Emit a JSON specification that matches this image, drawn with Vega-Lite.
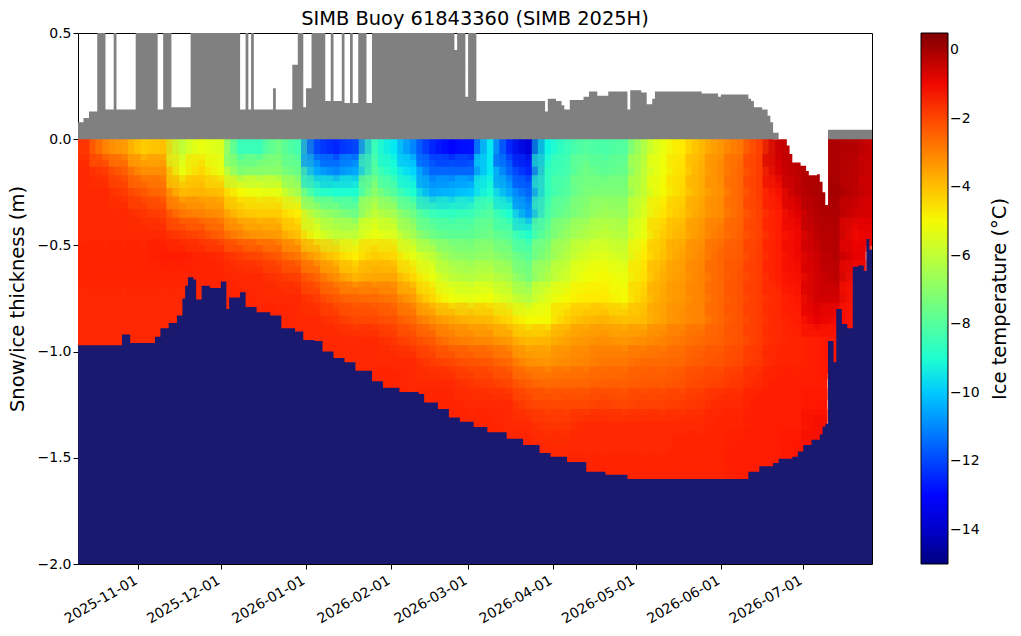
{
"$schema":"https://vega.github.io/schema/vega-lite/v6.json",
"width":794,"height":531,
"autosize":{"type":"none"},
"padding":{"left":78,"top":33,"right":149,"bottom":72},
"background":"white",
"config":{"font":"DejaVu Sans","view":{"stroke":"black","strokeWidth":1}},
"title":{"text":"SIMB Buoy 61843360 (SIMB 2025H)","fontSize":19.4,"fontWeight":"normal","color":"black","offset":-3,"anchor":"middle"},
"datasets":{
"temp":[
{"t":"2025-10-13","d":-0.05,"v":-1.7},{"t":"2025-10-13","d":-0.15,"v":-1.5},{"t":"2025-10-13","d":-0.25,"v":-1.5},{"t":"2025-10-13","d":-0.35,"v":-1.5},{"t":"2025-10-13","d":-0.45,"v":-1.5},{"t":"2025-10-13","d":-0.55,"v":-1.4},{"t":"2025-10-13","d":-0.65,"v":-1.4},{"t":"2025-10-13","d":-0.75,"v":-1.5},{"t":"2025-10-13","d":-0.85,"v":-1.5},{"t":"2025-10-13","d":-0.95,"v":-1.5},
{"t":"2025-10-20","d":-0.05,"v":-3},{"t":"2025-10-20","d":-0.15,"v":-1.8},{"t":"2025-10-20","d":-0.25,"v":-1.5},{"t":"2025-10-20","d":-0.35,"v":-1.5},{"t":"2025-10-20","d":-0.45,"v":-1.5},{"t":"2025-10-20","d":-0.55,"v":-1.4},{"t":"2025-10-20","d":-0.65,"v":-1.4},{"t":"2025-10-20","d":-0.75,"v":-1.5},{"t":"2025-10-20","d":-0.85,"v":-1.5},{"t":"2025-10-20","d":-0.95,"v":-1.5},
{"t":"2025-10-27","d":-0.05,"v":-3.4},{"t":"2025-10-27","d":-0.15,"v":-2.4},{"t":"2025-10-27","d":-0.25,"v":-1.8},{"t":"2025-10-27","d":-0.35,"v":-1.5},{"t":"2025-10-27","d":-0.45,"v":-1.5},{"t":"2025-10-27","d":-0.55,"v":-1.4},{"t":"2025-10-27","d":-0.65,"v":-1.4},{"t":"2025-10-27","d":-0.75,"v":-1.5},{"t":"2025-10-27","d":-0.85,"v":-1.5},{"t":"2025-10-27","d":-0.95,"v":-1.5},
{"t":"2025-11-03","d":-0.05,"v":-4.2},{"t":"2025-11-03","d":-0.15,"v":-3.2},{"t":"2025-11-03","d":-0.25,"v":-2.3},{"t":"2025-11-03","d":-0.35,"v":-1.7},{"t":"2025-11-03","d":-0.45,"v":-1.5},{"t":"2025-11-03","d":-0.55,"v":-1.4},{"t":"2025-11-03","d":-0.65,"v":-1.4},{"t":"2025-11-03","d":-0.75,"v":-1.5},{"t":"2025-11-03","d":-0.85,"v":-1.5},{"t":"2025-11-03","d":-0.95,"v":-1.5},
{"t":"2025-11-10","d":-0.05,"v":-4},{"t":"2025-11-10","d":-0.15,"v":-3.2},{"t":"2025-11-10","d":-0.25,"v":-2.6},{"t":"2025-11-10","d":-0.35,"v":-1.9},{"t":"2025-11-10","d":-0.45,"v":-1.5},{"t":"2025-11-10","d":-0.55,"v":-1.3},{"t":"2025-11-10","d":-0.65,"v":-1.4},{"t":"2025-11-10","d":-0.75,"v":-1.5},{"t":"2025-11-10","d":-0.85,"v":-1.5},{"t":"2025-11-10","d":-0.95,"v":-1.5},
{"t":"2025-11-17","d":-0.05,"v":-6},{"t":"2025-11-17","d":-0.15,"v":-5.2},{"t":"2025-11-17","d":-0.25,"v":-3.9},{"t":"2025-11-17","d":-0.35,"v":-2.8},{"t":"2025-11-17","d":-0.45,"v":-1.8},{"t":"2025-11-17","d":-0.55,"v":-1.3},{"t":"2025-11-17","d":-0.65,"v":-1.4},{"t":"2025-11-17","d":-0.75,"v":-1.5},{"t":"2025-11-17","d":-0.85,"v":-1.5},
{"t":"2025-11-24","d":-0.05,"v":-5.2},{"t":"2025-11-24","d":-0.15,"v":-4.4},{"t":"2025-11-24","d":-0.25,"v":-3.8},{"t":"2025-11-24","d":-0.35,"v":-3},{"t":"2025-11-24","d":-0.45,"v":-2},{"t":"2025-11-24","d":-0.55,"v":-1.4},{"t":"2025-11-24","d":-0.65,"v":-1.4},{"t":"2025-11-24","d":-0.75,"v":-1.5},
{"t":"2025-12-01","d":-0.05,"v":-5.5},{"t":"2025-12-01","d":-0.15,"v":-5.2},{"t":"2025-12-01","d":-0.25,"v":-4},{"t":"2025-12-01","d":-0.35,"v":-3.2},{"t":"2025-12-01","d":-0.45,"v":-2.4},{"t":"2025-12-01","d":-0.55,"v":-1.5},{"t":"2025-12-01","d":-0.65,"v":-1.4},{"t":"2025-12-01","d":-0.75,"v":-1.4},
{"t":"2025-12-08","d":-0.05,"v":-8.5},{"t":"2025-12-08","d":-0.15,"v":-7.2},{"t":"2025-12-08","d":-0.25,"v":-5},{"t":"2025-12-08","d":-0.35,"v":-4},{"t":"2025-12-08","d":-0.45,"v":-3},{"t":"2025-12-08","d":-0.55,"v":-1.8},{"t":"2025-12-08","d":-0.65,"v":-1.5},{"t":"2025-12-08","d":-0.75,"v":-1.4},{"t":"2025-12-08","d":-0.85,"v":-1.4},
{"t":"2025-12-15","d":-0.05,"v":-8.5},{"t":"2025-12-15","d":-0.15,"v":-7},{"t":"2025-12-15","d":-0.25,"v":-5.2},{"t":"2025-12-15","d":-0.35,"v":-4.2},{"t":"2025-12-15","d":-0.45,"v":-3.3},{"t":"2025-12-15","d":-0.55,"v":-2},{"t":"2025-12-15","d":-0.65,"v":-1.5},{"t":"2025-12-15","d":-0.75,"v":-1.5},{"t":"2025-12-15","d":-0.85,"v":-1.4},
{"t":"2025-12-22","d":-0.05,"v":-7.5},{"t":"2025-12-22","d":-0.15,"v":-7},{"t":"2025-12-22","d":-0.25,"v":-5.3},{"t":"2025-12-22","d":-0.35,"v":-4.2},{"t":"2025-12-22","d":-0.45,"v":-3.4},{"t":"2025-12-22","d":-0.55,"v":-2.3},{"t":"2025-12-22","d":-0.65,"v":-1.7},{"t":"2025-12-22","d":-0.75,"v":-1.5},{"t":"2025-12-22","d":-0.85,"v":-1.4},{"t":"2025-12-22","d":-0.95,"v":-1.5},
{"t":"2025-12-29","d":-0.05,"v":-8.3},{"t":"2025-12-29","d":-0.15,"v":-7.6},{"t":"2025-12-29","d":-0.25,"v":-6.5},{"t":"2025-12-29","d":-0.35,"v":-4.8},{"t":"2025-12-29","d":-0.45,"v":-4},{"t":"2025-12-29","d":-0.55,"v":-2.8},{"t":"2025-12-29","d":-0.65,"v":-1.9},{"t":"2025-12-29","d":-0.75,"v":-1.5},{"t":"2025-12-29","d":-0.85,"v":-1.5},{"t":"2025-12-29","d":-0.95,"v":-1.5},
{"t":"2026-01-05","d":-0.05,"v":-12},{"t":"2026-01-05","d":-0.15,"v":-10.5},{"t":"2026-01-05","d":-0.25,"v":-8.7},{"t":"2026-01-05","d":-0.35,"v":-6.5},{"t":"2026-01-05","d":-0.45,"v":-5.3},{"t":"2026-01-05","d":-0.55,"v":-3.6},{"t":"2026-01-05","d":-0.65,"v":-2.5},{"t":"2026-01-05","d":-0.75,"v":-1.8},{"t":"2026-01-05","d":-0.85,"v":-1.5},{"t":"2026-01-05","d":-0.95,"v":-1.5},
{"t":"2026-01-12","d":-0.05,"v":-12.5},{"t":"2026-01-12","d":-0.15,"v":-11},{"t":"2026-01-12","d":-0.25,"v":-9},{"t":"2026-01-12","d":-0.35,"v":-7},{"t":"2026-01-12","d":-0.45,"v":-6},{"t":"2026-01-12","d":-0.55,"v":-4.2},{"t":"2026-01-12","d":-0.65,"v":-3.2},{"t":"2026-01-12","d":-0.75,"v":-2.3},{"t":"2026-01-12","d":-0.85,"v":-1.7},{"t":"2026-01-12","d":-0.95,"v":-1.5},{"t":"2026-01-12","d":-1.05,"v":-1.5},
{"t":"2026-01-19","d":-0.05,"v":-12},{"t":"2026-01-19","d":-0.15,"v":-10.5},{"t":"2026-01-19","d":-0.25,"v":-9},{"t":"2026-01-19","d":-0.35,"v":-7.5},{"t":"2026-01-19","d":-0.45,"v":-6},{"t":"2026-01-19","d":-0.55,"v":-4.8},{"t":"2026-01-19","d":-0.65,"v":-3.8},{"t":"2026-01-19","d":-0.75,"v":-2.5},{"t":"2026-01-19","d":-0.85,"v":-2},{"t":"2026-01-19","d":-0.95,"v":-1.5},{"t":"2026-01-19","d":-1.05,"v":-1.5},
{"t":"2026-01-26","d":-0.05,"v":-8.5},{"t":"2026-01-26","d":-0.15,"v":-8},{"t":"2026-01-26","d":-0.25,"v":-7},{"t":"2026-01-26","d":-0.35,"v":-6},{"t":"2026-01-26","d":-0.45,"v":-5.2},{"t":"2026-01-26","d":-0.55,"v":-4.2},{"t":"2026-01-26","d":-0.65,"v":-3.6},{"t":"2026-01-26","d":-0.75,"v":-2.6},{"t":"2026-01-26","d":-0.85,"v":-2},{"t":"2026-01-26","d":-0.95,"v":-1.5},{"t":"2026-01-26","d":-1.05,"v":-1.5},{"t":"2026-01-26","d":-1.15,"v":-1.4},
{"t":"2026-02-02","d":-0.05,"v":-9.5},{"t":"2026-02-02","d":-0.15,"v":-9},{"t":"2026-02-02","d":-0.25,"v":-8},{"t":"2026-02-02","d":-0.35,"v":-6.5},{"t":"2026-02-02","d":-0.45,"v":-5.5},{"t":"2026-02-02","d":-0.55,"v":-4.4},{"t":"2026-02-02","d":-0.65,"v":-3.6},{"t":"2026-02-02","d":-0.75,"v":-2.8},{"t":"2026-02-02","d":-0.85,"v":-2.2},{"t":"2026-02-02","d":-0.95,"v":-1.7},{"t":"2026-02-02","d":-1.05,"v":-1.5},{"t":"2026-02-02","d":-1.15,"v":-1.4},
{"t":"2026-02-09","d":-0.05,"v":-11},{"t":"2026-02-09","d":-0.15,"v":-9.8},{"t":"2026-02-09","d":-0.25,"v":-9},{"t":"2026-02-09","d":-0.35,"v":-7.5},{"t":"2026-02-09","d":-0.45,"v":-6.5},{"t":"2026-02-09","d":-0.55,"v":-5.3},{"t":"2026-02-09","d":-0.65,"v":-4.4},{"t":"2026-02-09","d":-0.75,"v":-3.4},{"t":"2026-02-09","d":-0.85,"v":-2.6},{"t":"2026-02-09","d":-0.95,"v":-2},{"t":"2026-02-09","d":-1.05,"v":-1.5},{"t":"2026-02-09","d":-1.15,"v":-1.5},{"t":"2026-02-09","d":-1.25,"v":-1.4},
{"t":"2026-02-16","d":-0.05,"v":-12.5},{"t":"2026-02-16","d":-0.15,"v":-11.5},{"t":"2026-02-16","d":-0.25,"v":-10.5},{"t":"2026-02-16","d":-0.35,"v":-8.5},{"t":"2026-02-16","d":-0.45,"v":-7.5},{"t":"2026-02-16","d":-0.55,"v":-6},{"t":"2026-02-16","d":-0.65,"v":-5.2},{"t":"2026-02-16","d":-0.75,"v":-4.4},{"t":"2026-02-16","d":-0.85,"v":-3.2},{"t":"2026-02-16","d":-0.95,"v":-2.3},{"t":"2026-02-16","d":-1.05,"v":-1.8},{"t":"2026-02-16","d":-1.15,"v":-1.5},{"t":"2026-02-16","d":-1.25,"v":-1.4},
{"t":"2026-02-23","d":-0.05,"v":-13},{"t":"2026-02-23","d":-0.15,"v":-11.5},{"t":"2026-02-23","d":-0.25,"v":-10.3},{"t":"2026-02-23","d":-0.35,"v":-8.7},{"t":"2026-02-23","d":-0.45,"v":-7.8},{"t":"2026-02-23","d":-0.55,"v":-6.8},{"t":"2026-02-23","d":-0.65,"v":-6},{"t":"2026-02-23","d":-0.75,"v":-5.1},{"t":"2026-02-23","d":-0.85,"v":-3.6},{"t":"2026-02-23","d":-0.95,"v":-2.8},{"t":"2026-02-23","d":-1.05,"v":-2},{"t":"2026-02-23","d":-1.15,"v":-1.5},{"t":"2026-02-23","d":-1.25,"v":-1.4},{"t":"2026-02-23","d":-1.35,"v":-1.4},
{"t":"2026-03-02","d":-0.05,"v":-12.8},{"t":"2026-03-02","d":-0.15,"v":-11.5},{"t":"2026-03-02","d":-0.25,"v":-10},{"t":"2026-03-02","d":-0.35,"v":-8.5},{"t":"2026-03-02","d":-0.45,"v":-7.8},{"t":"2026-03-02","d":-0.55,"v":-7},{"t":"2026-03-02","d":-0.65,"v":-6.2},{"t":"2026-03-02","d":-0.75,"v":-5.3},{"t":"2026-03-02","d":-0.85,"v":-3.8},{"t":"2026-03-02","d":-0.95,"v":-3},{"t":"2026-03-02","d":-1.05,"v":-2.2},{"t":"2026-03-02","d":-1.15,"v":-1.7},{"t":"2026-03-02","d":-1.25,"v":-1.5},{"t":"2026-03-02","d":-1.35,"v":-1.4},
{"t":"2026-03-09","d":-0.05,"v":-9.5},{"t":"2026-03-09","d":-0.15,"v":-9.5},{"t":"2026-03-09","d":-0.25,"v":-9},{"t":"2026-03-09","d":-0.35,"v":-8},{"t":"2026-03-09","d":-0.45,"v":-7.5},{"t":"2026-03-09","d":-0.55,"v":-6.8},{"t":"2026-03-09","d":-0.65,"v":-6},{"t":"2026-03-09","d":-0.75,"v":-5.1},{"t":"2026-03-09","d":-0.85,"v":-3.9},{"t":"2026-03-09","d":-0.95,"v":-3.1},{"t":"2026-03-09","d":-1.05,"v":-2.3},{"t":"2026-03-09","d":-1.15,"v":-1.8},{"t":"2026-03-09","d":-1.25,"v":-1.5},{"t":"2026-03-09","d":-1.35,"v":-1.4},{"t":"2026-03-09","d":-1.45,"v":-1.4},
{"t":"2026-03-16","d":-0.05,"v":-12.5},{"t":"2026-03-16","d":-0.15,"v":-11.5},{"t":"2026-03-16","d":-0.25,"v":-10.5},{"t":"2026-03-16","d":-0.35,"v":-9},{"t":"2026-03-16","d":-0.45,"v":-8},{"t":"2026-03-16","d":-0.55,"v":-7.2},{"t":"2026-03-16","d":-0.65,"v":-6.4},{"t":"2026-03-16","d":-0.75,"v":-5.6},{"t":"2026-03-16","d":-0.85,"v":-4.4},{"t":"2026-03-16","d":-0.95,"v":-3.4},{"t":"2026-03-16","d":-1.05,"v":-2.6},{"t":"2026-03-16","d":-1.15,"v":-2},{"t":"2026-03-16","d":-1.25,"v":-1.5},{"t":"2026-03-16","d":-1.35,"v":-1.5},{"t":"2026-03-16","d":-1.45,"v":-1.4},
{"t":"2026-03-23","d":-0.05,"v":-13.8},{"t":"2026-03-23","d":-0.15,"v":-12.5},{"t":"2026-03-23","d":-0.25,"v":-11.5},{"t":"2026-03-23","d":-0.35,"v":-10.8},{"t":"2026-03-23","d":-0.45,"v":-8.9},{"t":"2026-03-23","d":-0.55,"v":-7.9},{"t":"2026-03-23","d":-0.65,"v":-7.3},{"t":"2026-03-23","d":-0.75,"v":-6.2},{"t":"2026-03-23","d":-0.85,"v":-5},{"t":"2026-03-23","d":-0.95,"v":-3.9},{"t":"2026-03-23","d":-1.05,"v":-3.2},{"t":"2026-03-23","d":-1.15,"v":-2.4},{"t":"2026-03-23","d":-1.25,"v":-1.9},{"t":"2026-03-23","d":-1.35,"v":-1.5},{"t":"2026-03-23","d":-1.45,"v":-1.4},
{"t":"2026-03-30","d":-0.05,"v":-9.3},{"t":"2026-03-30","d":-0.15,"v":-8.7},{"t":"2026-03-30","d":-0.25,"v":-8.6},{"t":"2026-03-30","d":-0.35,"v":-8.2},{"t":"2026-03-30","d":-0.45,"v":-7.6},{"t":"2026-03-30","d":-0.55,"v":-7},{"t":"2026-03-30","d":-0.65,"v":-6.3},{"t":"2026-03-30","d":-0.75,"v":-5.4},{"t":"2026-03-30","d":-0.85,"v":-5},{"t":"2026-03-30","d":-0.95,"v":-3.8},{"t":"2026-03-30","d":-1.05,"v":-3.3},{"t":"2026-03-30","d":-1.15,"v":-2.6},{"t":"2026-03-30","d":-1.25,"v":-2},{"t":"2026-03-30","d":-1.35,"v":-1.7},{"t":"2026-03-30","d":-1.45,"v":-1.5},
{"t":"2026-04-06","d":-0.05,"v":-8.5},{"t":"2026-04-06","d":-0.15,"v":-8.3},{"t":"2026-04-06","d":-0.25,"v":-8},{"t":"2026-04-06","d":-0.35,"v":-7.5},{"t":"2026-04-06","d":-0.45,"v":-6.8},{"t":"2026-04-06","d":-0.55,"v":-6.2},{"t":"2026-04-06","d":-0.65,"v":-5.7},{"t":"2026-04-06","d":-0.75,"v":-5},{"t":"2026-04-06","d":-0.85,"v":-4.2},{"t":"2026-04-06","d":-0.95,"v":-3.5},{"t":"2026-04-06","d":-1.05,"v":-3.1},{"t":"2026-04-06","d":-1.15,"v":-2.5},{"t":"2026-04-06","d":-1.25,"v":-2},{"t":"2026-04-06","d":-1.35,"v":-1.7},{"t":"2026-04-06","d":-1.45,"v":-1.5},{"t":"2026-04-06","d":-1.55,"v":-1.4},
{"t":"2026-04-13","d":-0.05,"v":-8},{"t":"2026-04-13","d":-0.15,"v":-7.5},{"t":"2026-04-13","d":-0.25,"v":-7.3},{"t":"2026-04-13","d":-0.35,"v":-7},{"t":"2026-04-13","d":-0.45,"v":-6.3},{"t":"2026-04-13","d":-0.55,"v":-5.6},{"t":"2026-04-13","d":-0.65,"v":-5.1},{"t":"2026-04-13","d":-0.75,"v":-4.7},{"t":"2026-04-13","d":-0.85,"v":-3.9},{"t":"2026-04-13","d":-0.95,"v":-3.3},{"t":"2026-04-13","d":-1.05,"v":-3},{"t":"2026-04-13","d":-1.15,"v":-2.5},{"t":"2026-04-13","d":-1.25,"v":-2},{"t":"2026-04-13","d":-1.35,"v":-1.5},{"t":"2026-04-13","d":-1.45,"v":-1.5},{"t":"2026-04-13","d":-1.55,"v":-1.4},
{"t":"2026-04-20","d":-0.05,"v":-8.2},{"t":"2026-04-20","d":-0.15,"v":-7.8},{"t":"2026-04-20","d":-0.25,"v":-7.2},{"t":"2026-04-20","d":-0.35,"v":-6.6},{"t":"2026-04-20","d":-0.45,"v":-6},{"t":"2026-04-20","d":-0.55,"v":-5.4},{"t":"2026-04-20","d":-0.65,"v":-5},{"t":"2026-04-20","d":-0.75,"v":-4.7},{"t":"2026-04-20","d":-0.85,"v":-3.8},{"t":"2026-04-20","d":-0.95,"v":-3.2},{"t":"2026-04-20","d":-1.05,"v":-2.8},{"t":"2026-04-20","d":-1.15,"v":-2.4},{"t":"2026-04-20","d":-1.25,"v":-1.9},{"t":"2026-04-20","d":-1.35,"v":-1.5},{"t":"2026-04-20","d":-1.45,"v":-1.5},{"t":"2026-04-20","d":-1.55,"v":-1.4},
{"t":"2026-04-27","d":-0.05,"v":-8},{"t":"2026-04-27","d":-0.15,"v":-7.6},{"t":"2026-04-27","d":-0.25,"v":-7.2},{"t":"2026-04-27","d":-0.35,"v":-6.7},{"t":"2026-04-27","d":-0.45,"v":-6.2},{"t":"2026-04-27","d":-0.55,"v":-5.7},{"t":"2026-04-27","d":-0.65,"v":-5.2},{"t":"2026-04-27","d":-0.75,"v":-5},{"t":"2026-04-27","d":-0.85,"v":-4},{"t":"2026-04-27","d":-0.95,"v":-3.3},{"t":"2026-04-27","d":-1.05,"v":-2.8},{"t":"2026-04-27","d":-1.15,"v":-2.4},{"t":"2026-04-27","d":-1.25,"v":-2},{"t":"2026-04-27","d":-1.35,"v":-1.5},{"t":"2026-04-27","d":-1.45,"v":-1.5},{"t":"2026-04-27","d":-1.55,"v":-1.4},
{"t":"2026-05-04","d":-0.05,"v":-6.3},{"t":"2026-05-04","d":-0.15,"v":-6},{"t":"2026-05-04","d":-0.25,"v":-5.9},{"t":"2026-05-04","d":-0.35,"v":-5.5},{"t":"2026-05-04","d":-0.45,"v":-5.2},{"t":"2026-05-04","d":-0.55,"v":-4.7},{"t":"2026-05-04","d":-0.65,"v":-4.5},{"t":"2026-05-04","d":-0.75,"v":-4.2},{"t":"2026-05-04","d":-0.85,"v":-3.9},{"t":"2026-05-04","d":-0.95,"v":-3.2},{"t":"2026-05-04","d":-1.05,"v":-2.6},{"t":"2026-05-04","d":-1.15,"v":-2.3},{"t":"2026-05-04","d":-1.25,"v":-1.9},{"t":"2026-05-04","d":-1.35,"v":-1.5},{"t":"2026-05-04","d":-1.45,"v":-1.5},{"t":"2026-05-04","d":-1.55,"v":-1.4},
{"t":"2026-05-11","d":-0.05,"v":-5.2},{"t":"2026-05-11","d":-0.15,"v":-5.1},{"t":"2026-05-11","d":-0.25,"v":-5},{"t":"2026-05-11","d":-0.35,"v":-4.6},{"t":"2026-05-11","d":-0.45,"v":-4.2},{"t":"2026-05-11","d":-0.55,"v":-4},{"t":"2026-05-11","d":-0.65,"v":-3.7},{"t":"2026-05-11","d":-0.75,"v":-3.6},{"t":"2026-05-11","d":-0.85,"v":-3.5},{"t":"2026-05-11","d":-0.95,"v":-3},{"t":"2026-05-11","d":-1.05,"v":-2.6},{"t":"2026-05-11","d":-1.15,"v":-2.3},{"t":"2026-05-11","d":-1.25,"v":-1.9},{"t":"2026-05-11","d":-1.35,"v":-1.5},{"t":"2026-05-11","d":-1.45,"v":-1.5},{"t":"2026-05-11","d":-1.55,"v":-1.4},
{"t":"2026-05-18","d":-0.05,"v":-4.7},{"t":"2026-05-18","d":-0.15,"v":-4.5},{"t":"2026-05-18","d":-0.25,"v":-4.4},{"t":"2026-05-18","d":-0.35,"v":-4.1},{"t":"2026-05-18","d":-0.45,"v":-3.8},{"t":"2026-05-18","d":-0.55,"v":-3.5},{"t":"2026-05-18","d":-0.65,"v":-3.4},{"t":"2026-05-18","d":-0.75,"v":-3.3},{"t":"2026-05-18","d":-0.85,"v":-3.2},{"t":"2026-05-18","d":-0.95,"v":-2.8},{"t":"2026-05-18","d":-1.05,"v":-2.5},{"t":"2026-05-18","d":-1.15,"v":-2.2},{"t":"2026-05-18","d":-1.25,"v":-1.8},{"t":"2026-05-18","d":-1.35,"v":-1.5},{"t":"2026-05-18","d":-1.45,"v":-1.4},{"t":"2026-05-18","d":-1.55,"v":-1.4},
{"t":"2026-05-25","d":-0.05,"v":-3.9},{"t":"2026-05-25","d":-0.15,"v":-3.7},{"t":"2026-05-25","d":-0.25,"v":-3.7},{"t":"2026-05-25","d":-0.35,"v":-3.5},{"t":"2026-05-25","d":-0.45,"v":-3.3},{"t":"2026-05-25","d":-0.55,"v":-3.1},{"t":"2026-05-25","d":-0.65,"v":-3},{"t":"2026-05-25","d":-0.75,"v":-3},{"t":"2026-05-25","d":-0.85,"v":-3},{"t":"2026-05-25","d":-0.95,"v":-2.6},{"t":"2026-05-25","d":-1.05,"v":-2.3},{"t":"2026-05-25","d":-1.15,"v":-2},{"t":"2026-05-25","d":-1.25,"v":-1.7},{"t":"2026-05-25","d":-1.35,"v":-1.5},{"t":"2026-05-25","d":-1.45,"v":-1.4},{"t":"2026-05-25","d":-1.55,"v":-1.4},
{"t":"2026-06-01","d":-0.05,"v":-3.3},{"t":"2026-06-01","d":-0.15,"v":-3.1},{"t":"2026-06-01","d":-0.25,"v":-3.2},{"t":"2026-06-01","d":-0.35,"v":-3.1},{"t":"2026-06-01","d":-0.45,"v":-2.8},{"t":"2026-06-01","d":-0.55,"v":-2.5},{"t":"2026-06-01","d":-0.65,"v":-2.5},{"t":"2026-06-01","d":-0.75,"v":-2.5},{"t":"2026-06-01","d":-0.85,"v":-2.5},{"t":"2026-06-01","d":-0.95,"v":-2.4},{"t":"2026-06-01","d":-1.05,"v":-2.2},{"t":"2026-06-01","d":-1.15,"v":-1.9},{"t":"2026-06-01","d":-1.25,"v":-1.5},{"t":"2026-06-01","d":-1.35,"v":-1.4},{"t":"2026-06-01","d":-1.45,"v":-1.4},{"t":"2026-06-01","d":-1.55,"v":-1.4},
{"t":"2026-06-08","d":-0.05,"v":-2.8},{"t":"2026-06-08","d":-0.15,"v":-2.5},{"t":"2026-06-08","d":-0.25,"v":-2.5},{"t":"2026-06-08","d":-0.35,"v":-2.5},{"t":"2026-06-08","d":-0.45,"v":-2.4},{"t":"2026-06-08","d":-0.55,"v":-2.3},{"t":"2026-06-08","d":-0.65,"v":-2.2},{"t":"2026-06-08","d":-0.75,"v":-2.2},{"t":"2026-06-08","d":-0.85,"v":-2.2},{"t":"2026-06-08","d":-0.95,"v":-2.2},{"t":"2026-06-08","d":-1.05,"v":-2},{"t":"2026-06-08","d":-1.15,"v":-1.7},{"t":"2026-06-08","d":-1.25,"v":-1.5},{"t":"2026-06-08","d":-1.35,"v":-1.4},{"t":"2026-06-08","d":-1.45,"v":-1.3},{"t":"2026-06-08","d":-1.55,"v":-1.3},
{"t":"2026-06-15","d":-0.05,"v":-1.9},{"t":"2026-06-15","d":-0.15,"v":-1.8},{"t":"2026-06-15","d":-0.25,"v":-1.8},{"t":"2026-06-15","d":-0.35,"v":-1.9},{"t":"2026-06-15","d":-0.45,"v":-1.9},{"t":"2026-06-15","d":-0.55,"v":-1.8},{"t":"2026-06-15","d":-0.65,"v":-1.8},{"t":"2026-06-15","d":-0.75,"v":-1.8},{"t":"2026-06-15","d":-0.85,"v":-1.8},{"t":"2026-06-15","d":-0.95,"v":-1.8},{"t":"2026-06-15","d":-1.05,"v":-1.7},{"t":"2026-06-15","d":-1.15,"v":-1.5},{"t":"2026-06-15","d":-1.25,"v":-1.3},{"t":"2026-06-15","d":-1.35,"v":-1.3},{"t":"2026-06-15","d":-1.45,"v":-1.3},{"t":"2026-06-15","d":-1.55,"v":-1.3},
{"t":"2026-06-22","d":-0.05,"v":-0.5},{"t":"2026-06-22","d":-0.15,"v":-0.7},{"t":"2026-06-22","d":-0.25,"v":-1.1},{"t":"2026-06-22","d":-0.35,"v":-1.3},{"t":"2026-06-22","d":-0.45,"v":-1.3},{"t":"2026-06-22","d":-0.55,"v":-1.3},{"t":"2026-06-22","d":-0.65,"v":-1.3},{"t":"2026-06-22","d":-0.75,"v":-1.5},{"t":"2026-06-22","d":-0.85,"v":-1.5},{"t":"2026-06-22","d":-0.95,"v":-1.5},{"t":"2026-06-22","d":-1.05,"v":-1.4},{"t":"2026-06-22","d":-1.15,"v":-1.3},{"t":"2026-06-22","d":-1.25,"v":-1.3},{"t":"2026-06-22","d":-1.35,"v":-1.3},{"t":"2026-06-22","d":-1.45,"v":-1.3},{"t":"2026-06-22","d":-1.55,"v":-1.3},
{"t":"2026-06-29","d":-0.05,"v":-0.3},{"t":"2026-06-29","d":-0.15,"v":-0.3},{"t":"2026-06-29","d":-0.25,"v":-0.4},{"t":"2026-06-29","d":-0.35,"v":-0.8},{"t":"2026-06-29","d":-0.45,"v":-1},{"t":"2026-06-29","d":-0.55,"v":-1},{"t":"2026-06-29","d":-0.65,"v":-1.1},{"t":"2026-06-29","d":-0.75,"v":-1.2},{"t":"2026-06-29","d":-0.85,"v":-1.3},{"t":"2026-06-29","d":-0.95,"v":-1.4},{"t":"2026-06-29","d":-1.05,"v":-1.4},{"t":"2026-06-29","d":-1.15,"v":-1.3},{"t":"2026-06-29","d":-1.25,"v":-1.3},{"t":"2026-06-29","d":-1.35,"v":-1.3},{"t":"2026-06-29","d":-1.45,"v":-1.2},{"t":"2026-06-29","d":-1.55,"v":-1.2},
{"t":"2026-07-06","d":-0.05,"v":-0.1},{"t":"2026-07-06","d":-0.15,"v":-0.1},{"t":"2026-07-06","d":-0.25,"v":-0.1},{"t":"2026-07-06","d":-0.35,"v":-0.2},{"t":"2026-07-06","d":-0.45,"v":-0.3},{"t":"2026-07-06","d":-0.55,"v":-0.5},{"t":"2026-07-06","d":-0.65,"v":-0.6},{"t":"2026-07-06","d":-0.75,"v":-0.6},{"t":"2026-07-06","d":-0.85,"v":-0.9},{"t":"2026-07-06","d":-0.95,"v":-1.3},{"t":"2026-07-06","d":-1.05,"v":-1.3},{"t":"2026-07-06","d":-1.15,"v":-1.3},{"t":"2026-07-06","d":-1.25,"v":-1.2},{"t":"2026-07-06","d":-1.35,"v":-1.1},{"t":"2026-07-06","d":-1.45,"v":-1.1},
{"t":"2026-07-13","d":-0.05,"v":-0.1},{"t":"2026-07-13","d":-0.15,"v":-0.1},{"t":"2026-07-13","d":-0.25,"v":0},{"t":"2026-07-13","d":-0.35,"v":-0.1},{"t":"2026-07-13","d":-0.45,"v":-0.2},{"t":"2026-07-13","d":-0.55,"v":-0.2},{"t":"2026-07-13","d":-0.65,"v":-0.3},{"t":"2026-07-13","d":-0.75,"v":-0.6},{"t":"2026-07-13","d":-0.85,"v":-1},{"t":"2026-07-13","d":-0.95,"v":-1.2},{"t":"2026-07-13","d":-1.05,"v":-1.2},
{"t":"2026-07-20","d":-0.05,"v":-0.2},{"t":"2026-07-20","d":-0.15,"v":-0.3},{"t":"2026-07-20","d":-0.25,"v":-0.3},{"t":"2026-07-20","d":-0.35,"v":-0.6},{"t":"2026-07-20","d":-0.45,"v":-1},{"t":"2026-07-20","d":-0.55,"v":-0.9},{"t":"2026-07-20","d":-0.65,"v":-1.1},{"t":"2026-07-20","d":-0.75,"v":-1.2},{"t":"2026-07-20","d":-0.85,"v":-1.2},
{"t":"2026-07-27","d":-0.05,"v":-0.5},{"t":"2026-07-27","d":-0.15,"v":-0.5},{"t":"2026-07-27","d":-0.25,"v":-0.6},{"t":"2026-07-27","d":-0.35,"v":-0.7},{"t":"2026-07-27","d":-0.45,"v":-0.9}
],
"ice":[
{"t":"2025-10-10","b":-0.97},{"t":"2025-10-26","b":-0.92},{"t":"2025-10-29","b":-0.96},{"t":"2025-11-07","b":-0.93},{"t":"2025-11-09","b":-0.89},{"t":"2025-11-12","b":-0.865},{"t":"2025-11-15","b":-0.83},{"t":"2025-11-17","b":-0.75},{"t":"2025-11-18","b":-0.69},{"t":"2025-11-19","b":-0.65},{"t":"2025-11-21","b":-0.66},{"t":"2025-11-22","b":-0.755},{"t":"2025-11-24","b":-0.69},{"t":"2025-11-27","b":-0.7},{"t":"2025-11-30","b":-0.7},{"t":"2025-12-01","b":-0.67},{"t":"2025-12-03","b":-0.8},{"t":"2025-12-04","b":-0.745},{"t":"2025-12-08","b":-0.72},{"t":"2025-12-10","b":-0.79},{"t":"2025-12-14","b":-0.815},{"t":"2025-12-19","b":-0.83},{"t":"2025-12-23","b":-0.89},{"t":"2025-12-28","b":-0.905},{"t":"2025-12-31","b":-0.945},{"t":"2026-01-04","b":-0.95},{"t":"2026-01-07","b":-1},{"t":"2026-01-11","b":-1.03},{"t":"2026-01-15","b":-1.05},{"t":"2026-01-19","b":-1.09},{"t":"2026-01-25","b":-1.14},{"t":"2026-01-29","b":-1.17},{"t":"2026-02-04","b":-1.19},{"t":"2026-02-11","b":-1.2},{"t":"2026-02-13","b":-1.24},{"t":"2026-02-18","b":-1.27},{"t":"2026-02-22","b":-1.31},{"t":"2026-02-26","b":-1.33},{"t":"2026-03-03","b":-1.355},{"t":"2026-03-08","b":-1.38},{"t":"2026-03-15","b":-1.41},{"t":"2026-03-21","b":-1.44},{"t":"2026-03-27","b":-1.477},{"t":"2026-03-31","b":-1.495},{"t":"2026-04-06","b":-1.52},{"t":"2026-04-13","b":-1.566},{"t":"2026-04-20","b":-1.58},{"t":"2026-04-28","b":-1.6},{"t":"2026-06-10","b":-1.6},{"t":"2026-06-11","b":-1.566},{"t":"2026-06-15","b":-1.54},{"t":"2026-06-20","b":-1.525},{"t":"2026-06-22","b":-1.505},{"t":"2026-06-27","b":-1.495},{"t":"2026-06-29","b":-1.47},{"t":"2026-07-01","b":-1.44},{"t":"2026-07-04","b":-1.415},{"t":"2026-07-07","b":-1.39},{"t":"2026-07-08","b":-1.354},{"t":"2026-07-09","b":-1.34},{"t":"2026-07-10","b":-0.95},{"t":"2026-07-12","b":-1.05},{"t":"2026-07-13","b":-0.8},{"t":"2026-07-15","b":-0.87},{"t":"2026-07-17","b":-0.89},{"t":"2026-07-19","b":-0.6},{"t":"2026-07-21","b":-0.595},{"t":"2026-07-23","b":-0.62},{"t":"2026-07-24","b":-0.47},{"t":"2026-07-25","b":-0.52},{"t":"2026-07-26","b":-0.47}
],
"snow":[
{"t":"2025-10-10","s":0.08},{"t":"2025-10-12","s":0.1},{"t":"2025-10-14","s":0.13},{"t":"2025-10-17","s":0.8},{"t":"2025-10-20","s":0.14},{"t":"2025-10-23","s":0.8},{"t":"2025-10-24","s":0.14},{"t":"2025-10-31","s":0.8},{"t":"2025-11-08","s":0.14},{"t":"2025-11-10","s":0.8},{"t":"2025-11-13","s":0.15},{"t":"2025-11-20","s":0.8},{"t":"2025-12-08","s":0.14},{"t":"2025-12-10","s":0.8},{"t":"2025-12-11","s":0.14},{"t":"2025-12-12","s":0.8},{"t":"2025-12-13","s":0.14},{"t":"2025-12-20","s":0.24},{"t":"2025-12-21","s":0.14},{"t":"2025-12-27","s":0.35},{"t":"2025-12-29","s":0.8},{"t":"2025-12-31","s":0.15},{"t":"2026-01-01","s":0.24},{"t":"2026-01-03","s":0.8},{"t":"2026-01-08","s":0.18},{"t":"2026-01-10","s":0.8},{"t":"2026-01-11","s":0.18},{"t":"2026-01-14","s":0.8},{"t":"2026-01-15","s":0.17},{"t":"2026-01-17","s":0.8},{"t":"2026-01-18","s":0.17},{"t":"2026-01-20","s":0.8},{"t":"2026-01-23","s":0.17},{"t":"2026-01-25","s":0.8},{"t":"2026-02-24","s":0.42},{"t":"2026-02-25","s":0.8},{"t":"2026-02-28","s":0.2},{"t":"2026-03-01","s":0.8},{"t":"2026-03-04","s":0.18},{"t":"2026-03-29","s":0.13},{"t":"2026-03-30","s":0.19},{"t":"2026-04-02","s":0.18},{"t":"2026-04-04","s":0.16},{"t":"2026-04-05","s":0.14},{"t":"2026-04-07","s":0.185},{"t":"2026-04-12","s":0.2},{"t":"2026-04-14","s":0.225},{"t":"2026-04-17","s":0.205},{"t":"2026-04-21","s":0.225},{"t":"2026-04-28","s":0.14},{"t":"2026-04-29","s":0.23},{"t":"2026-05-03","s":0.22},{"t":"2026-05-05","s":0.165},{"t":"2026-05-07","s":0.19},{"t":"2026-05-08","s":0.225},{"t":"2026-05-25","s":0.215},{"t":"2026-05-31","s":0.2},{"t":"2026-06-01","s":0.21},{"t":"2026-06-11","s":0.19},{"t":"2026-06-12","s":0.18},{"t":"2026-06-13","s":0.15},{"t":"2026-06-16","s":0.14},{"t":"2026-06-18","s":0.11},{"t":"2026-06-19","s":0.08},{"t":"2026-06-20","s":0.03},{"t":"2026-06-22","s":0},{"t":"2026-07-10","s":0.045},{"t":"2026-07-26","s":0.045}
],
"melt":[
{"t":"2026-06-20","m":0},{"t":"2026-06-25","m":-0.03},{"t":"2026-06-26","m":-0.07},{"t":"2026-06-27","m":-0.11},{"t":"2026-06-30","m":-0.125},{"t":"2026-07-02","m":-0.15},{"t":"2026-07-03","m":-0.17},{"t":"2026-07-06","m":-0.165},{"t":"2026-07-07","m":-0.2},{"t":"2026-07-08","m":-0.25},{"t":"2026-07-09","m":-0.31},{"t":"2026-07-10","m":0}
]
},
"layer":[
{"data":{"name":"temp"},
"mark":{"type":"rect","width":20,"height":22,"clip":true},
"encoding":{
"x":{"field":"t","type":"temporal","scale":{"type":"utc","domain":["2025-10-10","2026-07-26"]},
"axis":{"title":null,"grid":false,"domain":false,"tickCount":{"interval":"month","step":1},"format":"%Y-%m-%d","labelAngle":-30,"labelAlign":"right","labelBaseline":"top","labelFontSize":14,"labelColor":"black","tickColor":"black","tickSize":5,"labelFlush":false,"labelOverlap":false,"labelOffset":-6,"labelPadding":4}},
"y":{"field":"d","type":"quantitative","scale":{"domain":[-2,0.5],"nice":false},
"axis":{"title":"Snow/ice thickness (m)","titleFontSize":19.5,"titleFontWeight":"normal","titleColor":"black","titlePadding":10,"grid":false,"domain":false,"values":[-2,-1.5,-1,-0.5,0,0.5],"format":".1f","labelFontSize":14,"labelColor":"black","tickColor":"black","tickSize":5,"labelFlush":false}},
"color":{"field":"v","type":"quantitative",
"scale":{"domain":[-15,-13.295,-13.0625,-9.73,-9.575,-9.1875,-5.08,-4.925,-4.77,-1.205,-0.895,0.5],"range":["#000080","#0000ff","#0000ff","#00dbff","#00e5f8","#14ffdb","#f0ff07","#f8f500","#ffee00","#ff1700","#e80000","#800000"],"interpolate":"rgb","clamp":true},
"legend":{"title":"Ice temperature (°C)","orient":"none","legendX":843,"legendY":0,"gradientLength":531,"gradientThickness":27,"gradientStrokeColor":"black","gradientStrokeWidth":1,"values":[-14,-12,-10,-8,-6,-4,-2,0],"labelFontSize":14,"labelColor":"black","labelOverlap":false,"titleFontSize":19.5,"titleFontWeight":"normal","titleColor":"black","titleOrient":"right","titleAnchor":"middle","titlePadding":30,"titleLimit":400,"encoding":{"title":{"angle":{"value":-90}}}}}
}},
{"data":{"name":"temp"},
"mark":{"type":"rect","width":32,"height":34,"opacity":0.45,"clip":true},
"encoding":{
"x":{"field":"t","type":"temporal"},
"y":{"field":"d","type":"quantitative"},
"color":{"field":"v","type":"quantitative"}
}},
{"data":{"name":"melt"},"mark":{"type":"area","interpolate":"step-after","color":"white","clip":true},
"encoding":{"x":{"field":"t","type":"temporal"},"y":{"field":"m","type":"quantitative"},"y2":{"datum":0.1}}},
{"data":{"name":"snow"},"mark":{"type":"area","interpolate":"step-after","color":"#808080","clip":true},
"encoding":{"x":{"field":"t","type":"temporal"},"y":{"field":"s","type":"quantitative"},"y2":{"datum":0}}},
{"data":{"name":"ice"},"mark":{"type":"area","interpolate":"step-after","color":"#191970","clip":true},
"encoding":{"x":{"field":"t","type":"temporal"},"y":{"field":"b","type":"quantitative"},"y2":{"datum":-2}}}
]
}
